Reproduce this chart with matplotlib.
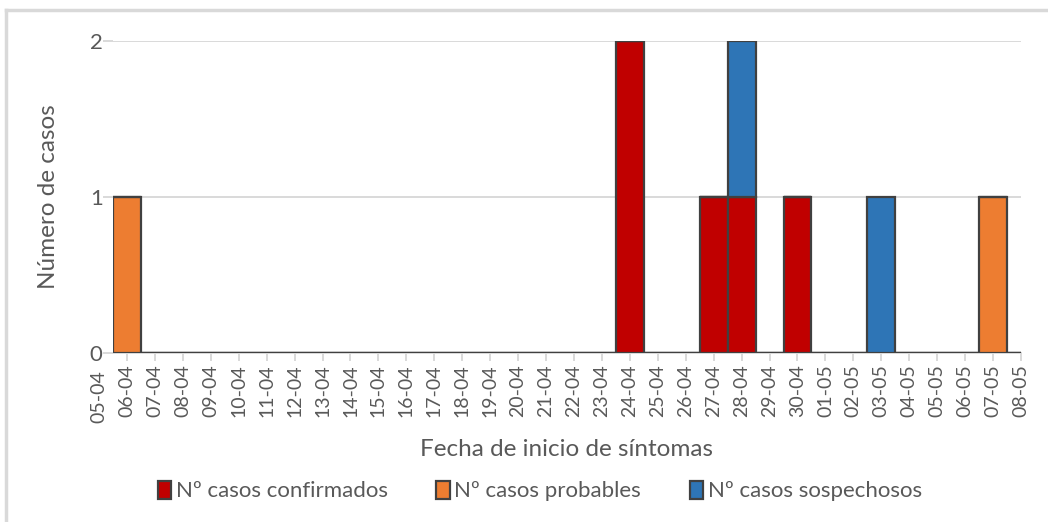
import matplotlib.pyplot as plt
from matplotlib.lines import Line2D

plt.rcParams['font.family'] = ['Lato', 'DejaVu Sans']

# fechas de inicio de sintomas (05-04 .. 08-05)
fechas = ['05-04', '06-04', '07-04', '08-04', '09-04', '10-04', '11-04', '12-04',
          '13-04', '14-04', '15-04', '16-04', '17-04', '18-04', '19-04', '20-04',
          '21-04', '22-04', '23-04', '24-04', '25-04', '26-04', '27-04', '28-04',
          '29-04', '30-04', '01-05', '02-05', '03-05', '04-05', '05-05', '06-05',
          '07-05', '08-05']
confirmados = [0]*34
probables = [0]*34
sospechosos = [0]*34
confirmados[19] = 2   # 24-04
confirmados[22] = 1   # 27-04
confirmados[23] = 1   # 28-04
confirmados[25] = 1   # 30-04
probables[1] = 1      # 06-04
probables[32] = 1     # 07-05
sospechosos[23] = 1   # 28-04
sospechosos[28] = 1   # 03-05

series = ['Nº casos confirmados', 'Nº casos probables', 'Nº casos sospechosos']
colores = ['#C00000', '#ED7D31', '#2E75B6']
gris = '#595959'
linea = '#D9D9D9'

fig = plt.figure(figsize=(10.48, 5.22), dpi=100)
ax = fig.add_axes([113/1048, 1-353/522, (1021-113)/1048, (353-41)/522])

x = list(range(len(fechas)))
base = [0]*34
for vals, nombre, col in zip([confirmados, probables, sospechosos], series, colores):
    ax.bar(x, vals, width=1.0, bottom=base, color=col, edgecolor='#404040',
           linewidth=1.6, label=nombre, zorder=3)
    base = [b + v for b, v in zip(base, vals)]

ax.set_yticks([0, 1, 2])
ax.set_xticks(x)
ax.set_xticklabels(fechas, rotation=90)
ax.set_xlim(0.5, 33)
ax.set_ylim(0, 2)
# la etiqueta 05-04 queda fuera del area de trazado
ax.text(0, -0.0545, fechas[0], rotation=90, ha='center', va='top', color=gris,
        fontsize=14, transform=ax.get_xaxis_transform(), clip_on=False)

ax.grid(axis='y', color=linea, linewidth=1.4, zorder=0)
for s in ['top', 'right', 'left']:
    ax.spines[s].set_visible(False)
ax.spines['bottom'].set_color(linea)
ax.spines['bottom'].set_linewidth(1.4)
ax.tick_params(axis='x', colors=linea, labelcolor=gris, labelsize=14, length=6, width=1.4, pad=2)
ax.tick_params(axis='y', colors=linea, labelcolor=gris, labelsize=16, length=7.5, width=1.4, pad=0)

ax.set_ylabel('Número de casos', color=gris, fontsize=17.5, labelpad=22)
ax.set_xlabel('Fecha de inicio de síntomas', color=gris, fontsize=17.5, labelpad=16)

fig.legend(loc='center', bbox_to_anchor=(0.515, 1-491/522), ncol=3, frameon=False,
           fontsize=16, labelcolor=gris, handlelength=0.6, handleheight=0.9,
           handletextpad=0.2, columnspacing=2.2)

# marco del grafico
fig.add_artist(Line2D([6/1048, 6/1048], [0, 1-10/522], color=linea, linewidth=2.5))
fig.add_artist(Line2D([6/1048, 1], [1-10/522, 1-10/522], color=linea, linewidth=2.5))

fig.savefig('out.png', dpi=100)
